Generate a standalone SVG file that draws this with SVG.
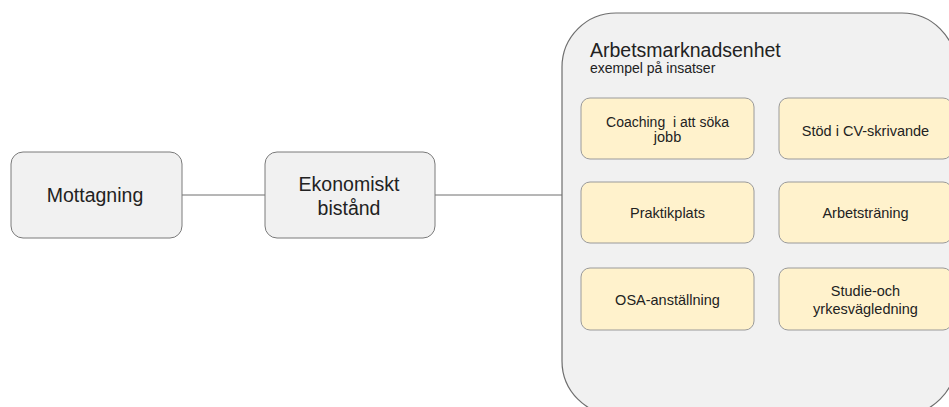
<svg xmlns="http://www.w3.org/2000/svg" width="949" height="407" viewBox="0 0 949 407">
  <style>
    .proc { fill: #f1f1f1; stroke: #7a7a7a; stroke-width: 1; }
    .unit { fill: #f1f1f1; stroke: #6e6e6e; stroke-width: 1.2; }
    .task { fill: #fff2cc; stroke: #9a9a9a; stroke-width: 1; }
    .lbl { font-family: "Liberation Sans", Arial, sans-serif; fill: #222222; text-anchor: middle; }
    .big { font-size: 19.5px; }
    .small { font-size: 14.5px; }
    .edge { stroke: #6e6e6e; stroke-width: 1; fill: none; }
  </style>

  <rect width="949" height="407" fill="#ffffff"/>

  <!-- connectors -->
  <g id="connectors">
    <line class="edge" x1="182" y1="195" x2="265" y2="195"/>
    <line class="edge" x1="435" y1="195" x2="562" y2="195"/>
  </g>

  <g id="mottagning">
    <rect class="proc" x="11" y="152" width="171" height="86" rx="12"/>
    <text class="lbl big" x="95" y="202">Mottagning</text>
  </g>

  <g id="ekonomiskt-bistand">
    <rect class="proc" x="265" y="152" width="170" height="86" rx="12"/>
    <text class="lbl big" x="349" y="191">Ekonomiskt</text>
    <text class="lbl big" x="349" y="215">bistånd</text>
  </g>

  <g id="arbetsmarknadsenhet">
    <rect class="unit" x="562" y="13" width="394" height="402" rx="54"/>
    <text font-family="Liberation Sans, Arial, sans-serif" font-size="19.5" fill="#222222" x="590" y="57">Arbetsmarknadsenhet</text>
    <text font-family="Liberation Sans, Arial, sans-serif" font-size="14" fill="#222222" x="590" y="73">exempel på insatser</text>
  </g>

  <g id="coaching">
    <rect class="task" x="581" y="98" width="173" height="61" rx="9"/>
    <text class="lbl small" x="667.5" y="127" font-size="14" xml:space="preserve" style="font-size:14px">Coaching  i att söka</text>
    <text class="lbl small" x="667.5" y="142">jobb</text>
  </g>

  <g id="stod-cv">
    <rect class="task" x="779" y="98" width="173" height="61" rx="9"/>
    <text class="lbl small" x="865.5" y="136">Stöd i CV-skrivande</text>
  </g>

  <g id="praktikplats">
    <rect class="task" x="581" y="182" width="173" height="61" rx="9"/>
    <text class="lbl small" x="667.5" y="218">Praktikplats</text>
  </g>

  <g id="arbetstraning">
    <rect class="task" x="779" y="182" width="173" height="61" rx="9"/>
    <text class="lbl small" x="865.5" y="218">Arbetsträning</text>
  </g>

  <g id="osa">
    <rect class="task" x="581" y="268" width="173" height="62" rx="9"/>
    <text class="lbl small" x="667.5" y="305">OSA-anställning</text>
  </g>

  <g id="studie-yrkesvagledning">
    <rect class="task" x="779" y="268" width="173" height="62" rx="9"/>
    <text class="lbl small" x="865.5" y="296">Studie-och</text>
    <text class="lbl small" x="865.5" y="314">yrkesvägledning</text>
  </g>
</svg>
